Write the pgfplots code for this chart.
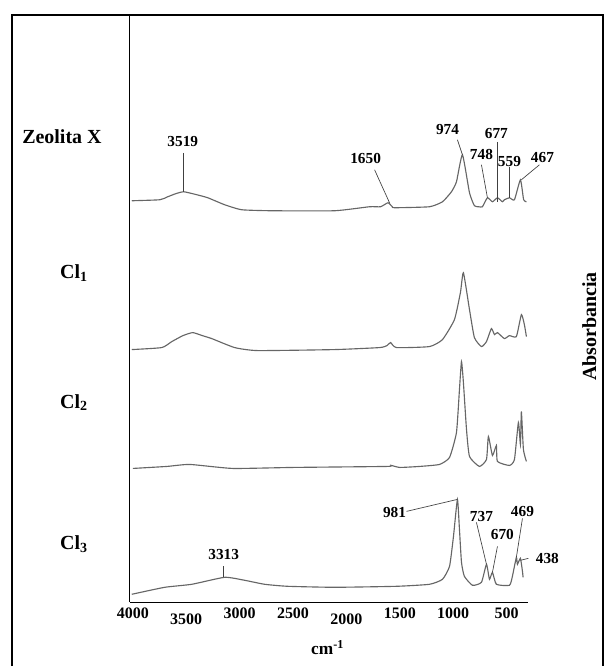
\documentclass[border=0pt]{standalone}
\usepackage{fontspec}
\setmainfont{Liberation Serif}
\usepackage{pgfplots}
\pgfplotsset{compat=1.18}

\begin{document}
\begin{tikzpicture}
% page box and outer frame
\path (0,0) rectangle (454.5pt,500.25pt);
\draw[line width=1.2pt] (9pt,0) -- (9pt,489pt) -- (453pt,489pt) -- (453pt,0);

\begin{axis}[
  at={(97.5pt,48pt)}, anchor=south west,
  width=298.9pt, height=440.25pt, scale only axis,
  x dir=reverse, xmin=300, xmax=4028, ymin=0, ymax=587,
  axis lines=left, axis line style={-, line width=0.9pt},
  xtick={4000,3000,2500,1500,1000,500},
  extra x ticks={3500,2000},
  extra x tick style={xticklabel style={yshift=-4pt}},
  ytick=\empty, major tick length=0pt,
  /pgf/number format/assume math mode=true,
  /pgf/number format/1000 sep={},
  ticklabel style={font=\fontsize{12}{13}\selectfont\bfseries},
  xticklabel style={yshift=-1pt},
  clip=false,
  spec/.style={black!60, line width=0.85pt, no markers, smooth, tension=0.3},
]
% Zeolita X
\addplot[spec] coordinates {
 (4010,402) (3747,403) (3673,406) (3600,409) (3523,411) (3400,408) (3298,405)
 (3140,398) (2980,393) (2700,392) (2110,392) (1783,396) (1680,396) (1610,400)
 (1570,396) (1549,395) (1222,396) (1100,401) (1016,411) (969,421) (913,448)
 (847,410) (801,397) (760,396) (726,396) (679,405) (632,401) (585,405)
 (539,401) (520,403) (473,405) (426,403) (370,423) (340,403) (314,401)
};
% Cl1
\addplot[spec] coordinates {
 (4010,253) (3729,255) (3635,261) (3530,267) (3439,270) (3350,267) (3261,264)
 (3046,255) (2831,252) (2110,253) (1689,255) (1620,257) (1586,260) (1530,255)
 (1222,256) (1100,263) (988,283) (932,310) (904,330) (847,293) (801,265)
 (735,256) (688,261) (642,274) (613,268) (585,270) (520,264) (473,267)
 (408,266) (361,288) (333,278) (314,266)
};
% Cl2
\addplot[spec] coordinates {
 (4000,134) (3682,136) (3467,138) (3065,134) (2500,135) (1624,136) (1580,137)
 (1500,135) (1315,136) (1128,138) (1034,145) (969,170) (941,213) (922,241)
 (904,220) (875,173) (847,146) (754,136) (688,143) (670,166) (632,147)
 (595,157) (585,141) (473,137) (426,143) (389,180) (370,158) (361,191)
 (342,153) (314,141)
};
% Cl3
\addplot[spec] coordinates {
 (4010,8) (3701,15) (3448,18) (3139,25) (2952,22) (2765,18) (2550,16)
 (2110,15) (1530,16) (1222,18) (1100,23) (1034,36) (997,66) (960,103)
 (941,73) (922,40) (895,26) (819,17) (735,20) (688,38) (660,23) (632,30)
 (595,18) (473,17) (445,26) (408,45) (398,38) (370,44) (351,31) (345,25)
};

% peak markers
\begin{scope}[black!75, line width=0.5pt]
\draw (axis cs:3523,450) -- (axis cs:3523,411);
\draw (axis cs:1736,433) -- (axis cs:1596,400);
\draw (axis cs:960,463) -- (axis cs:913,448);
\draw (axis cs:735,438) -- (axis cs:679,405);
\draw (axis cs:585,461) -- (axis cs:585,401);
\draw (axis cs:473,436) -- (axis cs:473,405);
\draw (axis cs:192,438) -- (axis cs:361,423);
\draw (axis cs:1437,91) -- (axis cs:960,103);
\draw (axis cs:782,80) -- (axis cs:688,38);
\draw (axis cs:585,56) -- (axis cs:632,30);
\draw (axis cs:351,84) -- (axis cs:408,45);
\draw (axis cs:295,44) -- (axis cs:370,42);
\draw (axis cs:3149,36) -- (axis cs:3149,25);
\end{scope}
\begin{scope}[every node/.style={font=\fontsize{11.5}{12}\selectfont\bfseries, inner sep=0pt}]
\node at (axis cs:3532,461) {3519};
\node at (axis cs:1820,444) {1650};
\node at (axis cs:1053,473) {974};
\node at (axis cs:595,469) {677};
\node at (axis cs:735,448) {748};
\node at (axis cs:473,441) {559};
\node at (axis cs:164,445) {467};
\node at (axis cs:1549,90) {981};
\node at (axis cs:735,86) {737};
\node at (axis cs:539,68) {670};
\node at (axis cs:351,91) {469};
\node at (axis cs:118,44) {438};
\node at (axis cs:3149,48) {3313};
\end{scope}
\end{axis}

% series names and axis titles
\begin{scope}[every node/.style={font=\fontsize{15}{16}\selectfont\bfseries}]
\node at (46.5pt,397.5pt) {Zeolita X};
\node at (55.5pt,295.5pt) {Cl\textsubscript{1}};
\node at (55.5pt,198pt) {Cl\textsubscript{2}};
\node at (55.5pt,91.5pt) {Cl\textsubscript{3}};
\node[rotate=90] at (442.5pt,255pt) {Absorbancia};
\end{scope}
\node[font=\fontsize{13}{14}\selectfont\bfseries] at (246pt,14.25pt) {cm\textsuperscript{-1}};
\end{tikzpicture}
\end{document}
